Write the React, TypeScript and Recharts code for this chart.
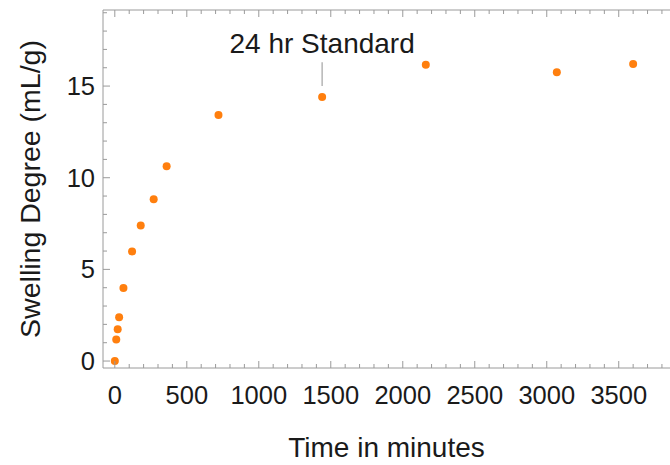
import React from "react";
import { ScatterChart, Scatter, XAxis, YAxis, ReferenceLine, Label } from "recharts";

// time (minutes) vs swelling degree (mL/g)
const times = [0, 10, 20, 30, 60, 120, 180, 270, 360, 720, 1440, 2160, 3070, 3600];
const swelling = [0, 1.17, 1.74, 2.39, 3.98, 5.98, 7.4, 8.83, 10.63, 13.42, 14.4, 16.16, 15.75, 16.2];

const xMajor = [0, 500, 1000, 1500, 2000, 2500, 3000, 3500];
const yMajor = [0, 5, 10, 15];
const xTicks = Array.from({ length: 39 }, (_, i) => i * 100);
const yTicks = Array.from({ length: 20 }, (_, i) => i);

const annotationX = 1440;
const annotationText = "24 hr Standard";

const data = times.map((t, i) => ({ t, s: swelling[i] }));

const axisColor = "#9a9a9a";
const textColor = "#1a1a1a";
const font = "'Liberation Sans', Arial, sans-serif";

const BottomTick = (props: any) => {
  const { x, y, payload } = props;
  const major = xMajor.includes(payload.value);
  return (
    <g>
      <line x1={x} x2={x} y1={y} y2={y - (major ? 7 : 4)} stroke={axisColor} />
      {major && (
        <text x={x} y={y + 36} textAnchor="middle" fontSize={25.5} fill={textColor} fontFamily={font}>
          {payload.value}
        </text>
      )}
    </g>
  );
};

const TopTick = (props: any) => {
  const { x, y, payload } = props;
  const major = xMajor.includes(payload.value);
  return <line x1={x} x2={x} y1={y} y2={y + (major ? 7 : 4)} stroke={axisColor} />;
};

const LeftTick = (props: any) => {
  const { x, y, payload } = props;
  const major = yMajor.includes(payload.value);
  return (
    <g>
      <line x1={x} x2={x + (major ? 7 : 4)} y1={y} y2={y} stroke={axisColor} />
      {major && (
        <text x={x - 8} y={y + 9} textAnchor="end" fontSize={25.5} fill={textColor} fontFamily={font}>
          {payload.value}
        </text>
      )}
    </g>
  );
};

const Dot = (props: any) => <circle cx={props.cx} cy={props.cy} r={4} fill="#ff7f0e" />;
const NoDot = () => <g />;

export default function App() {
  return (
    <div style={{ position: "absolute", left: 0, top: 0, background: "#fff" }}>
      <ScatterChart width={670} height={465} margin={{ top: 9, right: 0, bottom: 0, left: 0 }}>
        <XAxis
          xAxisId="top"
          orientation="top"
          type="number"
          dataKey="t"
          domain={[-82, 3856]}
          allowDataOverflow
          ticks={xTicks}
          interval={0}
          height={1}
          tickSize={0}
          tickMargin={0}
          tick={<TopTick />}
          axisLine={{ stroke: axisColor }}
          tickLine={false}
        />
        <XAxis
          type="number"
          dataKey="t"
          domain={[-82, 3856]}
          allowDataOverflow
          ticks={xTicks}
          interval={0}
          height={97}
          tickSize={0}
          tickMargin={0}
          tick={<BottomTick />}
          axisLine={{ stroke: axisColor }}
          tickLine={false}
        >
          <Label
            value="Time in minutes"
            position="insideBottom"
            offset={8}
            style={{ fontSize: 28, fill: textColor, fontFamily: font }}
          />
        </XAxis>
        <YAxis
          type="number"
          dataKey="s"
          domain={[-0.38, 19.15]}
          allowDataOverflow
          ticks={yTicks}
          interval={0}
          width={103}
          tickSize={0}
          tickMargin={0}
          tick={<LeftTick />}
          axisLine={{ stroke: axisColor }}
          tickLine={false}
        >
          <Label
            value="Swelling Degree (mL/g)"
            angle={-90}
            position="insideLeft"
            offset={30}
            style={{ textAnchor: "middle", fontSize: 28.5, fill: textColor, fontFamily: font }}
          />
        </YAxis>
        <ReferenceLine
          segment={[
            { x: annotationX, y: 15.0 },
            { x: annotationX, y: 16.3 },
          ]}
          stroke="#b5b5b5"
          strokeWidth={1.5}
          label={{
            value: annotationText,
            position: "top",
            offset: 9,
            style: { fontSize: 28, fill: textColor, fontFamily: font },
          }}
        />
        <Scatter xAxisId="top" data={data} shape={<NoDot />} isAnimationActive={false} />
        <Scatter data={data} shape={<Dot />} isAnimationActive={false} />
      </ScatterChart>
    </div>
  );
}
